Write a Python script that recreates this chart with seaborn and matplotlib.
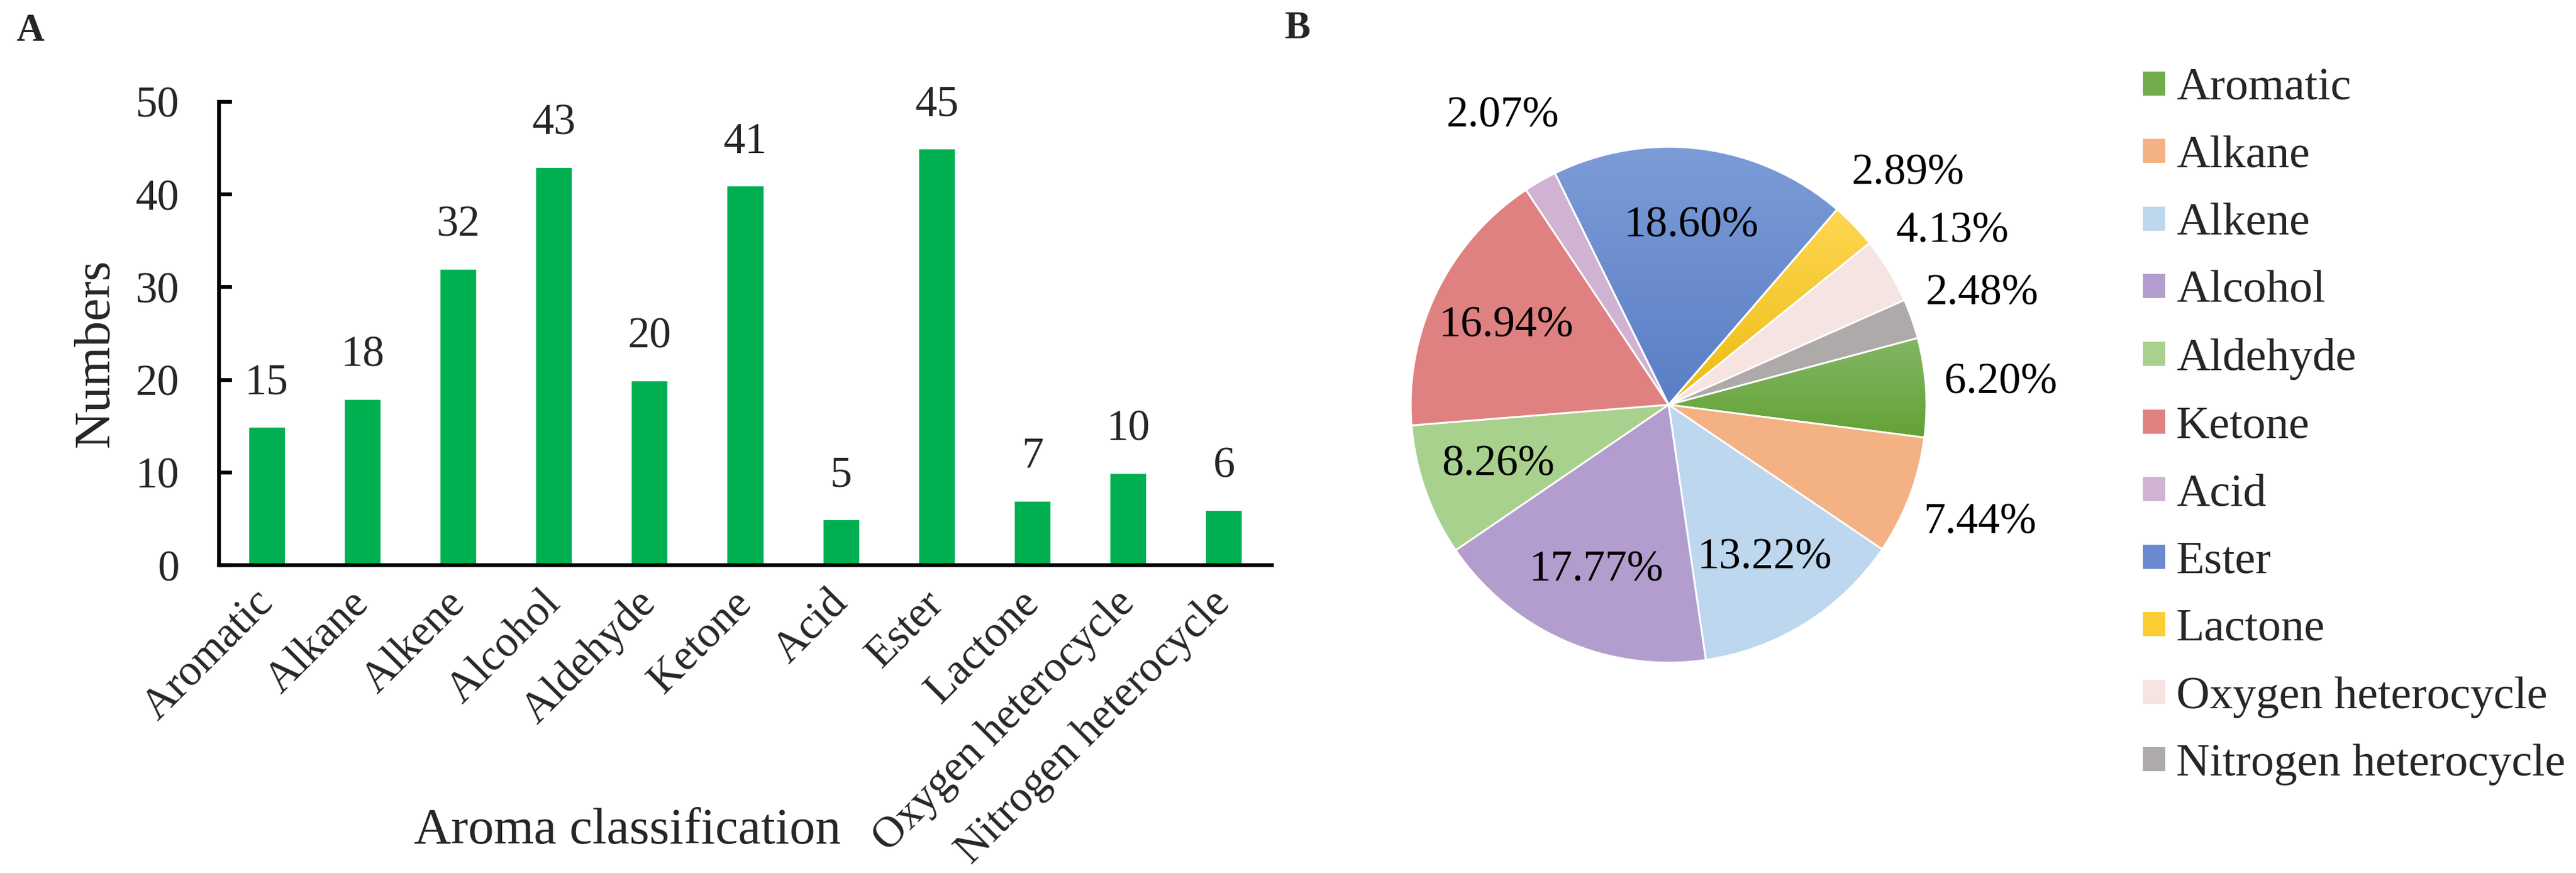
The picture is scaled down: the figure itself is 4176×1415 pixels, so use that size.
import numpy as np
import pandas as pd
import matplotlib
matplotlib.use("Agg")
import matplotlib.pyplot as plt
import seaborn as sns
from matplotlib.colors import LinearSegmentedColormap

# ---------------- data ----------------
categories = ["Aromatic", "Alkane", "Alkene", "Alcohol", "Aldehyde", "Ketone",
              "Acid", "Ester", "Lactone", "Oxygen heterocycle", "Nitrogen heterocycle"]
counts = [15, 18, 32, 43, 20, 41, 5, 45, 7, 10, 6]
y_ticks = [0, 10, 20, 30, 40, 50]

bar_color = "#00B050"
pie_colors = ["#72AD4B", "#F4B183", "#BDD7EE", "#B39DCE", "#A9D18E", "#DF8181",
              "#D0B3D2", "#6A8ACF", "#FBCE33", "#F5E4E1", "#AEAAAA"]
gradients = {"Aromatic": ("#83B764", "#63A236"),
             "Ester": ("#7C9CD7", "#5A7EC6"),
             "Lactone": ("#FFD653", "#EBBC12")}

# ---------------- style ----------------
sns.set_style("white")
plt.rcParams["font.family"] = ["Liberation Serif", "DejaVu Serif"]
plt.rcParams["axes.linewidth"] = 1.5

W, H, DPI = 4176, 1415, 300
fig = plt.figure(figsize=(W / DPI, H / DPI), dpi=DPI)

# ---------------- panel A: bar chart ----------------
ax1 = fig.add_axes([355 / W, 1 - 916 / H, (2062 - 355) / W, (916 - 165) / H])
df = pd.DataFrame({"category": categories, "count": counts})
sns.barplot(data=df, x="category", y="count", order=categories, color=bar_color,
            saturation=1, width=0.4, errorbar=None, ax=ax1)
ax1.bar_label(ax1.containers[0], fmt="%d", padding=9, fontsize=17)

ax1.set_xlim(-0.5, len(categories) - 0.5)
ax1.set_ylim(0, 50)
ax1.set_yticks(y_ticks)
sns.despine(ax=ax1)
for s in ("left", "bottom"):
    ax1.spines[s].set_color("black")
    ax1.spines[s].set_linewidth(1.5)

ax1.tick_params(axis="y", direction="in", length=5, width=1.5, color="black",
                labelsize=17, pad=15.5, left=True)
ax1.tick_params(axis="x", direction="in", length=3, width=1.5, color="black",
                labelsize=17, pad=12.5, bottom=True)
ax1.set_xticks(range(len(categories)))
ax1.set_xticklabels(categories, rotation=45, ha="right", va="center",
                    rotation_mode="anchor")

ax1.set_ylabel("Numbers", fontsize=20, va="center")
ax1.yaxis.set_label_coords(-0.1166, 0.458)
ax1.set_xlabel("Aroma classification", fontsize=20, va="center")
ax1.xaxis.set_label_coords(0.388, -0.574)

# ---------------- panel B: pie chart ----------------
R = 418
ax2 = fig.add_axes([(2705 - 1.5 * R) / W, (H - 656 - 1.5 * R) / H, 3 * R / W, 3 * R / H])
total = sum(counts)
wedges, _, autotexts = ax2.pie(
    counts, colors=pie_colors, startangle=90 - 75, counterclock=False,
    autopct=lambda p: f"{p:.2f}%", pctdistance=0.70,
    wedgeprops=dict(edgecolor="white", linewidth=0.7),
    textprops=dict(fontsize=17, color="black"))

outside_r = 1.29
for w, t, v in zip(wedges, autotexts, counts):
    if v / total < 0.08:
        mid = np.deg2rad((w.theta1 + w.theta2) / 2)
        t.set_position((outside_r * np.cos(mid), outside_r * np.sin(mid)))
    t.set_ha("center")
    t.set_va("center")

leg = ax2.legend(wedges, categories, loc="upper left",
                 bbox_to_anchor=(3472 / W, 1 - 110 / H), bbox_transform=fig.transFigure,
                 frameon=False, fontsize=18, handlelength=0.52, handleheight=0.48,
                 handletextpad=0.23, labelspacing=0.56, borderpad=0, borderaxespad=0)

# gradient fills for a few slices
grad = np.linspace(0, 1, 256).reshape(-1, 1)
for w, name in zip(wedges, categories):
    if name in gradients:
        top, bottom = gradients[name]
        cmap = LinearSegmentedColormap.from_list(name, [bottom, top])
        ext = w.get_path().get_extents()
        im = ax2.imshow(grad, extent=(ext.x0, ext.x1, ext.y0, ext.y1), origin="lower",
                        cmap=cmap, aspect="auto", interpolation="bilinear",
                        zorder=w.get_zorder() - 0.5)
        im.set_clip_path(w)
        w.set_facecolor("none")

ax2.set_xlim(-1.5, 1.5)
ax2.set_ylim(-1.5, 1.5)
ax2.set_aspect("equal")
ax2.axis("off")

# panel letters
fig.text(49 / W, 1 - 51 / H, "A", fontsize=15, fontweight="bold", ha="center", va="center")
fig.text(2104 / W, 1 - 47 / H, "B", fontsize=15, fontweight="bold", ha="center", va="center")

fig.savefig("out.png", dpi=DPI)
